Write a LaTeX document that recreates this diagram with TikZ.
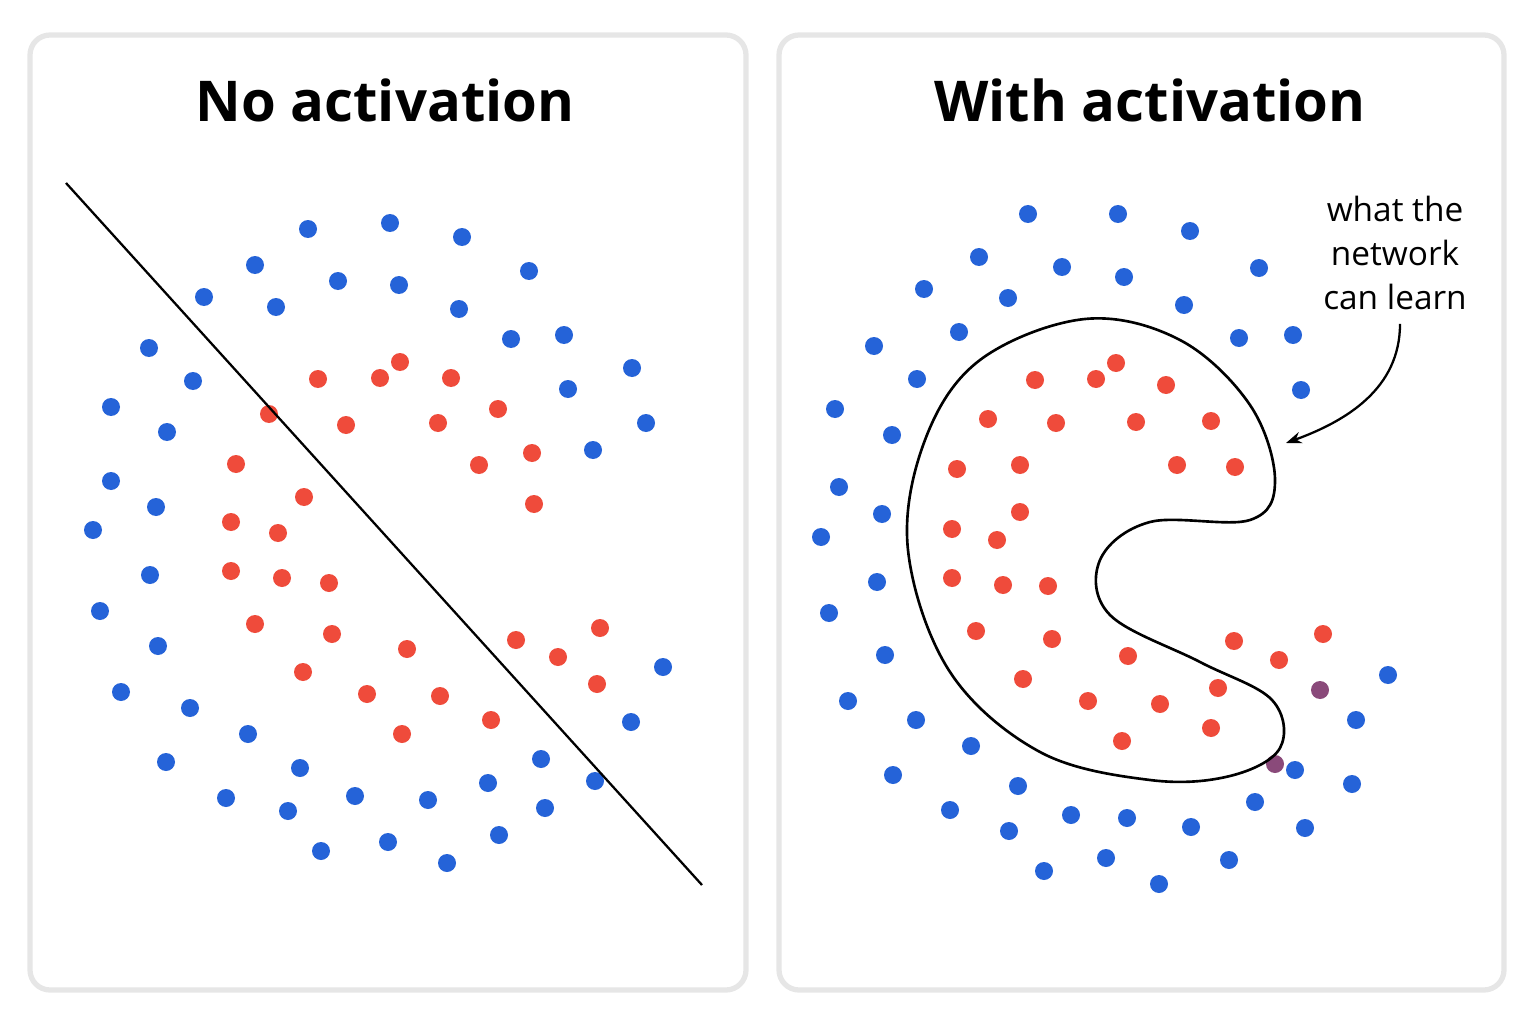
\documentclass[tikz,border=0pt]{standalone}
\usepackage{fontspec}
\setmainfont{Open Sans}
\usetikzlibrary{arrows.meta,positioning}
\definecolor{dotblue}{HTML}{2563D8}
\definecolor{dotred}{HTML}{EF4B3B}
\definecolor{dotmix}{HTML}{8A4A7A}
\definecolor{framegray}{HTML}{E6E6E6}
\tikzset{>=Stealth}

\begin{document}
\begin{tikzpicture}[x=0.02cm,y=-0.02cm,
                    panel/.style={draw=framegray, line width=3pt, rounded corners=0.4cm, fill=white},
                    title/.style={font=\bfseries\fontsize{32}{38}\selectfont},
                    bdot/.style={fill=dotblue},
                    rdot/.style={fill=dotred},
                   ]

\useasboundingbox (0,0) rectangle (1536,1024);

\draw[panel] (30,35) rectangle (746,990);
\draw[panel] (779,35) rectangle (1504,990);

\node[title] (lefttitle) at (385,100) {No activation};
\node[title] (righttitle) at (1150,100) {With activation};

% left panel
\foreach \x/\y in {308/229,390/223,462/237,529/271,255/265,338/281,399/285,204/297,276/307,459/309,511/339,564/335,149/348,193/381,632/368,568/389,111/407,167/432,646/423,593/450,111/481,156/507,93/530,150/575,100/611,158/646,121/692,190/708,248/734,166/762,300/768,226/798,288/811,355/796,428/800,488/783,541/759,595/781,545/808,499/835,388/842,321/851,447/863,663/667,631/722}
  \fill[bdot] (\x,\y) circle (9);
\foreach \x/\y in {318/379,380/378,400/362,451/378,498/409,346/425,438/423,269/414,236/464,479/465,532/453,534/504,304/497,231/522,278/533,231/571,282/578,329/583,255/624,332/634,407/649,303/672,367/694,440/696,402/734,491/720,516/640,558/657,600/628,597/684}
  \fill[rdot] (\x,\y) circle (9);

\coordinate (linestart) at (66,183);
\coordinate (lineend) at (702,885);
\draw[line width=1.3pt] (linestart) -- (lineend);

% right panel
\foreach \x/\y in {1028/214,1118/214,1190/231,979/257,1062/267,1124/277,1259/268,924/289,1008/298,1184/305,959/332,874/346,1239/338,1293/335,917/379,1301/390,835/409,892/435,839/487,882/514,821/537,877/582,829/613,885/655,848/701,916/720,971/746,893/775,1018/786,950/810,1009/831,1071/815,1127/818,1191/827,1255/802,1295/770,1305/828,1352/784,1356/720,1388/675,1044/871,1106/858,1159/884,1229/860}
  \fill[bdot] (\x,\y) circle (9);
\foreach \x/\y in {1035/380,1096/379,1116/363,1166/385,988/419,1056/423,1136/422,1211/421,957/469,1020/465,1177/465,1235/467,1020/512,952/529,997/540,952/578,1003/585,1048/586,976/631,1052/639,1128/656,1234/641,1279/660,1323/634,1023/679,1088/701,1160/704,1218/688,1122/741,1211/728}
  \fill[rdot] (\x,\y) circle (9);
\fill[dotmix] (1320,690) circle (9);
\fill[dotmix] (1275,764) circle (9);

\draw[line width=1.5pt] plot[smooth cycle, tension=0.6] coordinates {
  (1085,319) (1180,340) (1250,405) (1275,480) (1250,520) (1150,522) (1100,560)
  (1110,615) (1200,662) (1272,700) (1280,748) (1230,776) (1150,780) (1040,752)
  (950,672) (908,550) (925,440) (980,360)};

\node[align=center, font=\fontsize{19}{25}\selectfont] (note) at (1395,253) {what the\\network\\can learn};
\coordinate (hook) at (1286,443);
\draw[->, line width=1.3pt] (note.south) ++(5,8) to[out=-90, in=20] (hook);

\end{tikzpicture}
\end{document}
